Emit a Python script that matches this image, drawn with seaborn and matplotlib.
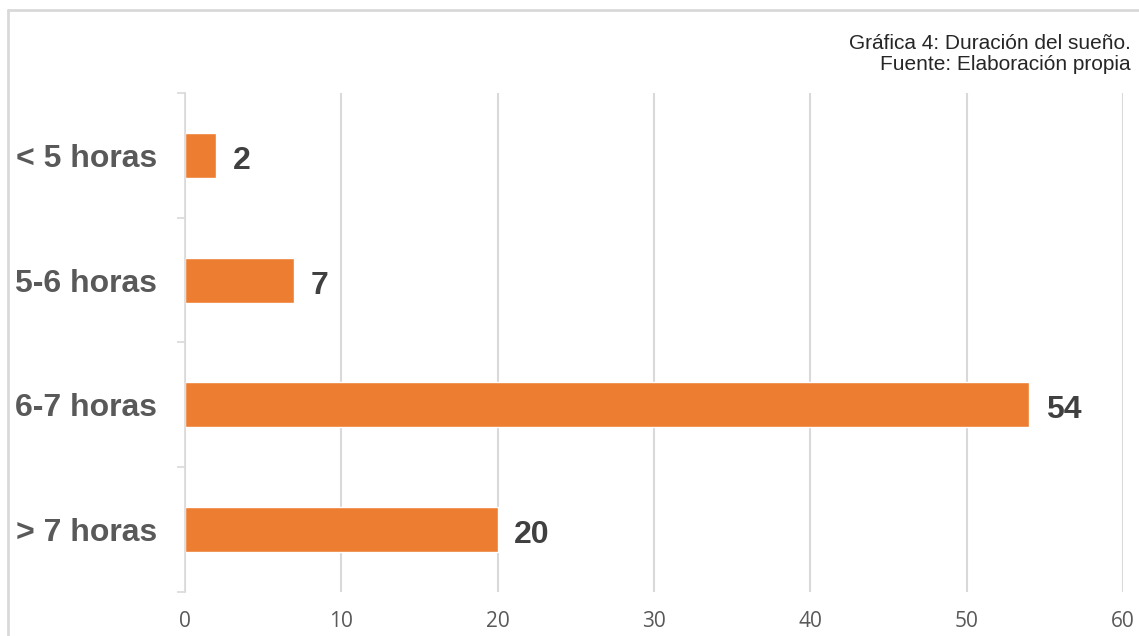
import matplotlib.pyplot as plt
import pandas as pd
import seaborn as sns
from matplotlib.lines import Line2D

categories = ["< 5 horas", "5-6 horas", "6-7 horas", "> 7 horas"]
values = [2, 7, 54, 20]
x_ticks = [0, 10, 20, 30, 40, 50, 60]

sns.set_theme(style="white")
plt.rcParams["font.family"] = ["Liberation Sans", "DejaVu Sans"]

df = pd.DataFrame({"duracion": categories, "personas": values})

fig = plt.figure(figsize=(11.39, 6.36), dpi=100)
ax = fig.add_axes([0.1624, 0.0692, 0.9860 - 0.1624, 0.8538 - 0.0692])

sns.barplot(data=df, y="duracion", x="personas", order=categories, orient="h",
            color="#ED7D31", width=0.36, saturation=1, ax=ax)

ax.set_xlim(0, 60)
ax.set_ylim(3.5, -0.5)
ax.set_xticks(x_ticks)
ax.set_xlabel("")
ax.set_ylabel("")

ax.grid(axis="x", color="#d9d9d9", linewidth=1.5)
ax.set_axisbelow(True)
for side in ["top", "right", "bottom"]:
    ax.spines[side].set_visible(False)
ax.spines["left"].set_color("#d9d9d9")
ax.spines["left"].set_linewidth(1.2)

ax.set_yticks([i - 0.5 for i in range(len(categories) + 1)], minor=True)
ax.tick_params(axis="y", which="minor", length=6, color="#d9d9d9", width=1.2, left=True)
ax.tick_params(axis="y", which="major", length=0, pad=20, labelsize=23, labelcolor="#595959")
ax.tick_params(axis="x", length=0, pad=14, labelsize=15, labelcolor="#595959")
for lbl in ax.get_yticklabels():
    lbl.set_fontweight("bold")
for lbl in ax.get_xticklabels():
    lbl.set_fontfamily(["Open Sans", "DejaVu Sans"])

labels = ax.bar_label(ax.containers[0], padding=12, fontsize=23, fontweight="bold", color="#404040")
for t in labels:
    t.xyann = (12, -4)

fig.text(0.993, 0.915, "Gráfica 4: Duración del sueño.\nFuente: Elaboración propia",
         ha="right", va="center", fontsize=15, color="#262626", linespacing=1.15)

# chart area border (top and left edges visible in the crop)
fig.add_artist(Line2D([8 / 1139, 1], [1 - 10 / 636, 1 - 10 / 636], transform=fig.transFigure,
                      color="#d9d9d9", linewidth=2))
fig.add_artist(Line2D([8 / 1139, 8 / 1139], [1 - 10 / 636, 0], transform=fig.transFigure,
                      color="#d9d9d9", linewidth=2))

fig.savefig("out.png", dpi=100)
plt.close(fig)
